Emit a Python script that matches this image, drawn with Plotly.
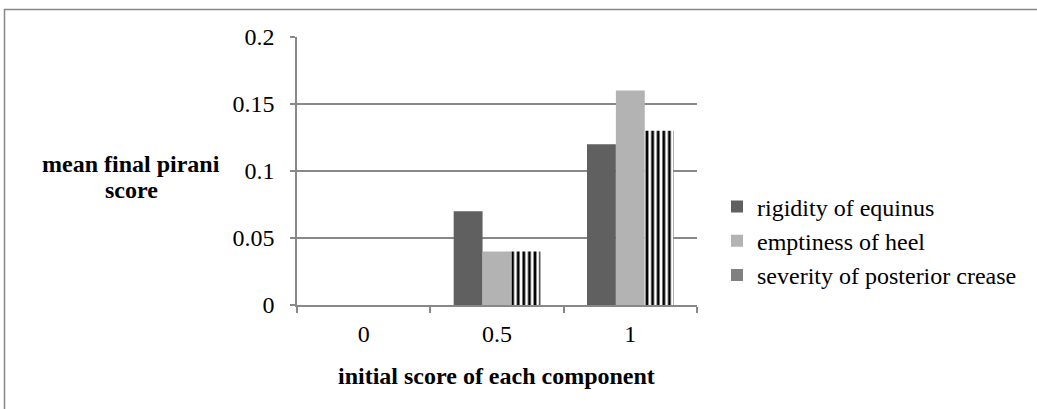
import plotly.graph_objects as go

categories = ["0", "0.5", "1"]
rigidity = [0, 0.07, 0.12]
emptiness = [0, 0.04, 0.16]
severity = [0, 0.04, 0.13]
series_names = ["rigidity of equinus", "emptiness of heel", "severity of posterior crease"]
y_ticks = [0, 0.05, 0.1, 0.15, 0.2]
y_tick_text = ["0", "0.05", "0.1", "0.15", "0.2"]

W, H = 1037, 409
L, R, T, B = 297, 340, 37, 104
FONT = "Times New Roman, Liberation Serif, serif"
FS = 24

fig = go.Figure()
fig.add_trace(go.Bar(x=categories, y=rigidity, name=series_names[0], offsetgroup="a",
                     legendgroup="a", marker=dict(color="#606060", line=dict(width=0))))
fig.add_trace(go.Bar(x=categories, y=emptiness, name=series_names[1], offsetgroup="b",
                     legendgroup="b", marker=dict(color="#b3b3b3", line=dict(width=0))))
fig.add_trace(go.Bar(x=categories, y=severity, name=series_names[2], offsetgroup="c",
                     legendgroup="c", showlegend=False,
                     marker=dict(color="white", line=dict(width=0),
                                 pattern=dict(shape="|", fgcolor="black", bgcolor="white",
                                              size=5.6, solidity=0.5, fillmode="replace"))))
# legend-only swatch for third series (solid gray as in reference legend)
fig.add_trace(go.Bar(x=categories, y=[None] * len(categories), name=series_names[2],
                     offsetgroup="c", legendgroup="c",
                     marker=dict(color="#808080", line=dict(width=0)), hoverinfo="skip"))

fig.update_layout(
    width=W, height=H,
    margin=dict(l=L, r=R, t=T, b=B),
    paper_bgcolor="white", plot_bgcolor="white",
    barmode="group", bargap=0.35, bargroupgap=0,
    font=dict(family=FONT, size=FS, color="black"),
    legend=dict(x=1.05, y=0.239, xanchor="left", yanchor="middle",
                font=dict(family=FONT, size=FS, color="black"),
                traceorder="grouped", tracegroupgap=0, itemclick=False,
                bgcolor="rgba(0,0,0,0)"),
    showlegend=True,
)
fig.update_xaxes(type="category", showline=True, linecolor="#888888", linewidth=1.5,
                 ticks="outside", tickson="boundaries", ticklen=6, tickcolor="#888888",
                 tickwidth=1.5, showgrid=False, ticklabelstandoff=6,
                 tickfont=dict(family=FONT, size=FS, color="black"))
fig.update_yaxes(range=[0, 0.2], tickvals=y_ticks, ticktext=y_tick_text,
                 showline=True, linecolor="#888888", linewidth=1.5,
                 ticks="outside", ticklen=5, tickcolor="#888888", tickwidth=1.5,
                 showgrid=True, gridcolor="#888888", gridwidth=1.5, zeroline=False,
                 tickfont=dict(family=FONT, size=FS, color="black"), ticklabelstandoff=11)

pw = W - L - R
ph = H - T - B
def px_x(x):
    return (x - L) / pw
def px_y(y):
    return (H - B - y) / ph

# outer frame (top and left edges visible)
fig.add_shape(type="rect", xref="paper", yref="paper",
              x0=px_x(4.5), x1=px_x(1045), y0=px_y(9.5), y1=px_y(420),
              line=dict(color="#888888", width=1.5), layer="below")

for txt, yy in (("mean final pirani", 164), ("score", 190)):
    fig.add_annotation(text="<b>%s</b>" % txt, xref="paper", yref="paper",
                       x=px_x(131), y=px_y(yy), xanchor="center", yanchor="middle",
                       showarrow=False, font=dict(family=FONT, size=FS, color="black"))
fig.add_annotation(text="<b>initial score of each component</b>", xref="paper", yref="paper",
                   x=px_x(496), y=px_y(376), xanchor="center", yanchor="middle",
                   showarrow=False, font=dict(family=FONT, size=FS, color="black"))

fig.write_html("out.html", config={"displayModeBar": False},
               post_script="document.body.style.margin='0';document.body.style.overflow='hidden';")
